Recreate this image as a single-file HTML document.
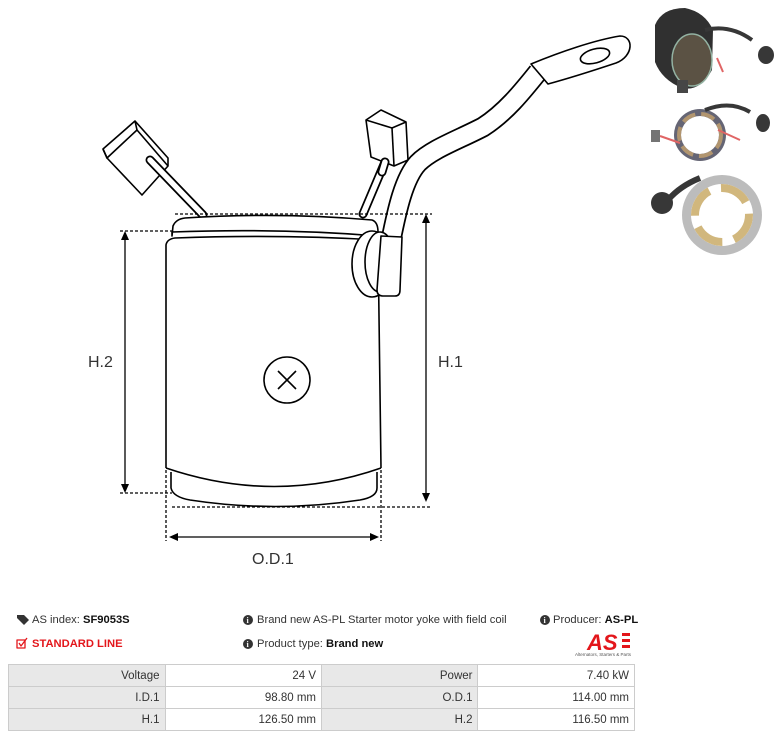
<!DOCTYPE html>
<html><head><meta charset="utf-8"><style>
body{margin:0;background:#fff;width:783px;height:741px;overflow:hidden;position:relative;font-family:"Liberation Sans",sans-serif;}
.t{position:absolute;font-size:11.2px;color:#333;white-space:nowrap}
table{position:absolute;left:8px;top:664px;border-collapse:collapse;width:627px;font-size:11.5px;color:#333}
td{border:1px solid #ccc;height:21px;padding:0 5px;text-align:right;width:146px}
td.g{background:#e8e8e8}
</style></head><body>
<svg width="783" height="741" style="position:absolute;left:0;top:0" fill="none" stroke="#000" stroke-width="1.6" stroke-linejoin="round">
<!-- left brush -->
<polygon points="103,149 135,121 168,158 168,166 142,195 107,158" fill="#fff"/>
<polyline points="103,149 107,158 137,130 168,166"/>
<line x1="137" y1="130" x2="135" y2="121"/>
<line x1="150" y1="160" x2="203" y2="215" stroke-width="9" stroke-linecap="round"/>
<line x1="150" y1="160" x2="203" y2="215" stroke="#fff" stroke-width="5.5" stroke-linecap="round"/>
<!-- right brush -->
<line x1="385" y1="162" x2="363" y2="214" stroke-width="9" stroke-linecap="round"/>
<line x1="385" y1="162" x2="363" y2="214" stroke="#fff" stroke-width="5.5" stroke-linecap="round"/>
<polygon points="366,120 381,110 406,122 408,160 394,166 371,157" fill="#fff"/>
<polyline points="366,120 392,128 406,122"/><line x1="392" y1="128" x2="394" y2="166"/>
<line x1="385" y1="162" x2="382" y2="172" stroke-width="9" stroke-linecap="round"/>
<line x1="385" y1="162" x2="382" y2="172" stroke="#fff" stroke-width="5.5" stroke-linecap="round"/>
<!-- cable -->
<path d="M391 240 C397 210 404 178 418 163 C432 149 458 140 483 127 C505 113 522 92 538 72" stroke-width="21"/>
<path d="M391 240 C397 210 404 178 418 163 C432 149 458 140 483 127 C505 113 522 92 538 72" stroke="#fff" stroke-width="17.5"/>
<path d="M531 64 C560 52 595 40 620 36 C634 36 634 56 616 63 C595 70 570 78 548 84 Z" fill="#fff"/>
<ellipse cx="595" cy="56" rx="15" ry="7" transform="rotate(-15 595 56)"/>
<!-- body -->
<path d="M166 468 L166 245 Q167 239 175 238 Q280 234 378 240 L381 468" fill="#fff"/>
<path d="M172 236 L173 226 Q176 219 185 218 Q280 212 372 220 Q378 222 378 232 L378 236 Q280 228 172 232 Z" fill="#fff"/>
<!-- roller -->
<ellipse cx="372" cy="264" rx="20" ry="33" fill="#fff"/>
<ellipse cx="380" cy="262" rx="15" ry="30" fill="#fff"/>
<path d="M381 236 L377 290 Q377 296 383 296 L395 296 Q400 296 400 290 L402 237 Z" fill="#fff"/>
<!-- bottom -->
<path d="M166 468 Q275 505 381 468"/>
<path d="M171 472 L171 488 Q173 497 190 500 Q275 513 360 500 Q377 497 377 488 L377 472"/>
<circle cx="287" cy="380" r="23"/>
<line x1="278" y1="389" x2="296" y2="371"/><line x1="278" y1="371" x2="296" y2="389"/>
<!-- dims -->
<g stroke-width="1.3" stroke-dasharray="3,2">
<line x1="120" y1="231" x2="172" y2="231"/><line x1="175" y1="214" x2="432" y2="214"/>
<line x1="120" y1="493" x2="172" y2="493"/><line x1="172" y1="507" x2="430" y2="507"/>
<line x1="166" y1="470" x2="166" y2="541"/><line x1="381" y1="470" x2="381" y2="541"/>
</g>
<g stroke-width="1.3">
<line x1="125" y1="238" x2="125" y2="486"/><line x1="426" y1="221" x2="426" y2="500"/>
<line x1="177" y1="537" x2="372" y2="537"/>
</g>
<g fill="#000" stroke="none">
<polygon points="125,231 121,240 129,240"/><polygon points="125,493 121,484 129,484"/>
<polygon points="426,214 422,223 430,223"/><polygon points="426,502 422,493 430,493"/>
<polygon points="169,537 178,533 178,541"/><polygon points="379,537 370,533 370,541"/>
</g>
<g fill="#333" stroke="none" font-family="'Liberation Sans',sans-serif" font-size="16">
<text x="88" y="367">H.2</text><text x="438" y="367">H.1</text><text x="252" y="564">O.D.1</text>
</g>
<!-- photos -->
<g stroke="none" opacity="0.9">
<path d="M655 25 Q662 8 685 8 Q705 12 713 30 L712 70 Q700 92 682 88 Q662 80 655 62 Z" fill="#1a1a1a"/>
<ellipse cx="692" cy="60" rx="20" ry="26" fill="#4a4030" stroke="#8a9" stroke-width="1.5"/>
<path d="M705 30 Q730 24 752 40" stroke="#222" stroke-width="4" fill="none"/>
<ellipse cx="766" cy="55" rx="8" ry="9" fill="#222"/>
<rect x="677" y="80" width="11" height="13" fill="#333"/>
<line x1="717" y1="58" x2="723" y2="72" stroke="#d55" stroke-width="2"/>
<circle cx="700" cy="135" r="26" fill="#556"/><circle cx="700" cy="135" r="19" fill="#fff"/>
<circle cx="700" cy="135" r="21" fill="none" stroke="#a98a60" stroke-width="4" stroke-dasharray="14,6"/>
<line x1="660" y1="136" x2="680" y2="143" stroke="#d55" stroke-width="2"/>
<line x1="718" y1="130" x2="740" y2="140" stroke="#d55" stroke-width="2"/>
<rect x="651" y="130" width="9" height="12" fill="#666"/>
<path d="M705 110 Q730 100 750 112" stroke="#222" stroke-width="4" fill="none"/>
<ellipse cx="763" cy="123" rx="7" ry="9" fill="#222"/>
<circle cx="722" cy="215" r="40" fill="#b5b5b5"/><circle cx="722" cy="215" r="31" fill="#fff"/>
<circle cx="722" cy="215" r="27" fill="none" stroke="#cdb070" stroke-width="8" stroke-dasharray="30,12"/>
<path d="M700 178 Q680 186 668 200" stroke="#222" stroke-width="6" fill="none"/>
<circle cx="662" cy="203" r="11" fill="#222"/>
</g>
<!-- logo -->
<g stroke="none">
<text x="587" y="650" fill="#e3161b" font-family="'Liberation Sans',sans-serif" font-weight="bold" font-style="italic" font-size="22">AS</text>
<rect x="622" y="633" width="8" height="3" fill="#e3161b"/><rect x="622" y="639" width="8" height="3" fill="#e3161b"/><rect x="622" y="645" width="8" height="3" fill="#e3161b"/>
<text x="575" y="656" fill="#555" font-size="4.5" font-family="'Liberation Sans',sans-serif">Alternators, Starters &amp; Parts</text>
<path d="M17 615 L24 615 L29 620 L24 625 L17 618 Z" fill="#333"/>
<circle cx="248" cy="620" r="5" fill="#333"/><circle cx="248" cy="644" r="5" fill="#333"/><circle cx="545" cy="620" r="5" fill="#333"/>
<g fill="#fff" font-size="8" font-weight="bold" font-family="'Liberation Serif',serif"><text x="246.5" y="623">i</text><text x="246.5" y="647">i</text><text x="543.5" y="623">i</text></g>
<rect x="17" y="640" width="8" height="8" fill="none" stroke="#e3161b" stroke-width="1.3"/>
<polyline points="19,643 21,646 27,638" stroke="#e3161b" stroke-width="1.3" fill="none"/>
</g>
</svg>
<div class="t" style="left:32px;top:614px">AS index: <b style="color:#111">SF9053S</b></div>
<div class="t" style="left:257px;top:614px">Brand new AS-PL Starter motor yoke with field coil</div>
<div class="t" style="left:553px;top:614px">Producer: <b style="color:#111">AS-PL</b></div>
<div class="t" style="left:32px;top:638px;color:#e3161b;font-weight:bold">STANDARD LINE</div>
<div class="t" style="left:257px;top:638px">Product type: <b style="color:#111">Brand new</b></div>
<table>
<tr><td class="g">Voltage</td><td>24 V</td><td class="g">Power</td><td>7.40 kW</td></tr>
<tr><td class="g">I.D.1</td><td>98.80 mm</td><td class="g">O.D.1</td><td>114.00 mm</td></tr>
<tr><td class="g">H.1</td><td>126.50 mm</td><td class="g">H.2</td><td>116.50 mm</td></tr>
</table>
</body></html>
